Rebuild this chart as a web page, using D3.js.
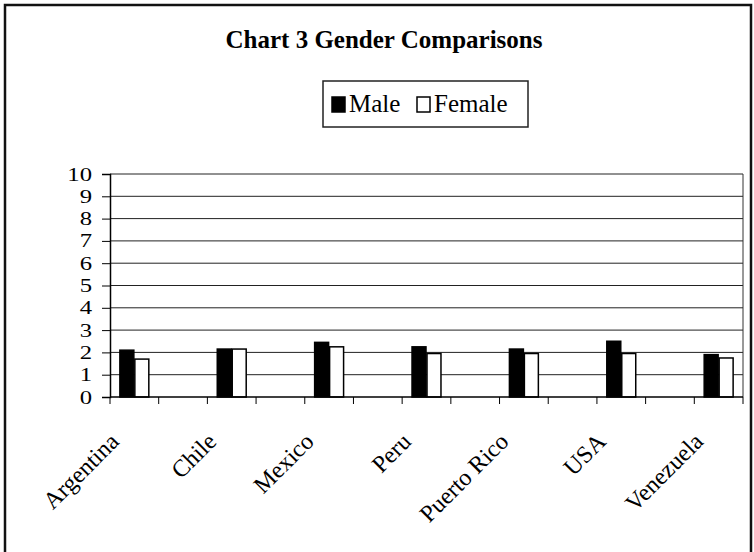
<!DOCTYPE html>
<html>
<head>
<meta charset="utf-8">
<script src="https://cdn.jsdelivr.net/npm/d3@7"></script>
<style>
  body { margin: 0; background: #fff; }
  svg { display: block; font-family: "Liberation Serif", "Times New Roman", serif; }
</style>
</head>
<body>
<svg id="chart"></svg>
<script>
// chart values
var countries = ["Argentina", "Chile", "Mexico", "Peru", "Puerto Rico", "USA", "Venezuela"];
var male = [2.1, 2.15, 2.45, 2.25, 2.15, 2.5, 1.9];
var female = [1.7, 2.15, 2.25, 1.95, 1.95, 1.95, 1.75];
var seriesNames = ["Male", "Female"];
var yTicks = [0, 1, 2, 3, 4, 5, 6, 7, 8, 9, 10];

var width = 754, height = 552;
var plot = { left: 110, right: 743, top: 174, bottom: 397 };

var svg = d3.select("#chart")
    .attr("width", width)
    .attr("height", height);

// outer frame
svg.append("rect")
    .attr("x", 5).attr("y", 5)
    .attr("width", 746).attr("height", 600)
    .attr("fill", "none")
    .attr("stroke", "#111")
    .attr("stroke-width", 2.5);

// title
svg.append("text")
    .attr("x", 384).attr("y", 48)
    .style("text-anchor", "middle")
    .style("font-weight", "bold")
    .style("font-size", "25px")
    .text("Chart 3  Gender Comparisons");

// the sheet had a blank row between countries, so every country sits in every other slot
var slots = [];
countries.forEach(function(c, i) {
    slots.push(c);
    if (i < countries.length - 1) slots.push("blank" + i);
});

var x0 = d3.scaleBand()
    .domain(slots)
    .range([plot.left, plot.right])
    .paddingInner(0.385)
    .paddingOuter(0.1925);

var x1 = d3.scaleBand()
    .domain(seriesNames)
    .range([0, x0.bandwidth()]);

var y = d3.scaleLinear()
    .domain([0, 10])
    .range([plot.bottom, plot.top]);

// gridlines
svg.append("g")
    .selectAll("line")
    .data(yTicks.slice(1))
    .enter().append("line")
    .attr("x1", plot.left).attr("x2", plot.right)
    .attr("y1", function(d) { return y(d); })
    .attr("y2", function(d) { return y(d); })
    .attr("stroke", "#222")
    .attr("stroke-width", 1);

// right edge of plot
svg.append("line")
    .attr("x1", plot.right).attr("x2", plot.right)
    .attr("y1", plot.top).attr("y2", plot.bottom)
    .attr("stroke", "#333");

// bars
var rows = countries.map(function(c, i) { return { name: c, Male: male[i], Female: female[i] }; });

var groups = svg.append("g")
    .selectAll("g")
    .data(rows)
    .enter().append("g")
    .attr("transform", function(d) { return "translate(" + x0(d.name) + ",0)"; });

groups.selectAll("rect")
    .data(function(d) { return seriesNames.map(function(k) { return { key: k, value: d[k] }; }); })
    .enter().append("rect")
    .attr("x", function(d) { return x1(d.key) + 0.5; })
    .attr("y", function(d) { return y(d.value); })
    .attr("width", x1.bandwidth() - 1)
    .attr("height", function(d) { return plot.bottom - y(d.value); })
    .attr("fill", function(d) { return d.key == "Male" ? "#000" : "#fff"; })
    .attr("stroke", "#000")
    .attr("stroke-width", 1.5);

// y axis
var yAxis = svg.append("g")
    .attr("transform", "translate(" + plot.left + ",0)")
    .call(d3.axisLeft(y).tickValues(yTicks).tickSize(8).tickPadding(10).tickFormat(d3.format("d")));
yAxis.select(".domain").attr("stroke", "#000").attr("stroke-width", 1.5);
// the scanned digits are wide but short, so stretch them sideways
yAxis.selectAll(".tick text")
    .attr("x", 0)
    .attr("transform", "translate(-18,0) scale(1.3,1)")
    .style("font-family", "Liberation Serif, serif")
    .style("font-size", "19px")
    .attr("fill", "#000");

// x axis, ticks on slot edges
var step = x0.step();
var edges = d3.range(slots.length + 1).map(function(i) { return plot.left + i * step; });
var xAxis = svg.append("g");
xAxis.append("line")
    .attr("x1", plot.left).attr("x2", plot.right)
    .attr("y1", plot.bottom).attr("y2", plot.bottom)
    .attr("stroke", "#000").attr("stroke-width", 1.5);
xAxis.selectAll(".tick")
    .data(edges)
    .enter().append("line")
    .attr("x1", function(d) { return d; }).attr("x2", function(d) { return d; })
    .attr("y1", plot.bottom).attr("y2", plot.bottom + 7)
    .attr("stroke", "#000");

// country labels at 45 degrees
xAxis.selectAll("text")
    .data(countries)
    .enter().append("text")
    .attr("transform", function(d) {
        var cx = x0(d) + x0.bandwidth() / 2 - 14;
        return "translate(" + cx + "," + (plot.bottom + 46) + ") rotate(-45)";
    })
    .style("text-anchor", "end")
    .style("font-size", "24px")
    .text(function(d) { return d; });

// legend
var legend = svg.append("g").attr("transform", "translate(323,81)");
legend.append("rect")
    .attr("width", 205).attr("height", 46)
    .attr("fill", "#fff")
    .attr("stroke", "#222")
    .attr("stroke-width", 1.5);
var legendItems = [{ name: "Male", x: 9 }, { name: "Female", x: 94 }];
legendItems.forEach(function(it) {
    legend.append("rect")
        .attr("x", it.x).attr("y", 16)
        .attr("width", 13).attr("height", 15)
        .attr("fill", it.name == "Male" ? "#000" : "#fff")
        .attr("stroke", "#000")
        .attr("stroke-width", 1.5);
    legend.append("text")
        .attr("x", it.x + 17).attr("y", 31)
        .style("font-size", "25px")
        .text(it.name);
});
</script>
</body>
</html>
